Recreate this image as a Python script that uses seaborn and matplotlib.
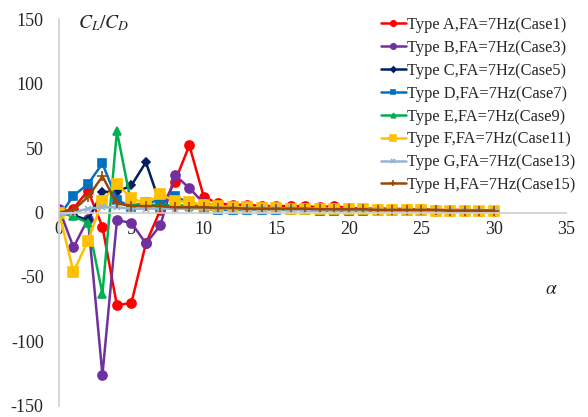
import numpy as np
import pandas as pd
import matplotlib
matplotlib.use('Agg')
import matplotlib.pyplot as plt
import seaborn as sns

sns.set_theme(style="white")
plt.rcParams['font.family'] = ['Liberation Serif', 'DejaVu Serif']
plt.rcParams['mathtext.fontset'] = 'stix'
plt.rcParams['axes.unicode_minus'] = False

# Veri (okunan değerler), alpha = 0..30
alpha = list(range(31))
labels = ['Type A,FA=7Hz(Case1)', 'Type B,FA=7Hz(Case3)', 'Type C,FA=7Hz(Case5)',
          'Type D,FA=7Hz(Case7)', 'Type E,FA=7Hz(Case9)', 'Type F,FA=7Hz(Case11)',
          'Type G,FA=7Hz(Case13)', 'Type H,FA=7Hz(Case15)']
type_a = [0, 3, 17, -11, -72, -70, -24, 2, 24, 52, 12, 7, 6, 6, 5, 5, 5, 5, 4, 5,
          3.5, 3, 3, 3, 2.5, 2.5, 2, 2, 2, 1.5, 1.5]
type_b = [3, -27, -5, -126, -6, -8, -24, -10, 29, 19, 7, 5, 4, 4, 3.5, 3.5, 3, 3, 3, 3,
          2.5, 2.5, 2, 2, 2, 2, 1.5, 1.5, 1.5, 1, 1]
type_c = [0, -2, -6, 16, 16, 21, 39, 6, 5, 4, 4, 3.5, 3, 3, 3, 3, 2.5, 2.5, 2.5, 2,
          2, 2, 2, 1.5, 1.5, 1.5, 1.5, 1, 1, 1, 1]
type_d = [-3, 13, 22, 38, 10, 4, 8, 9, 13, 7, 3, 2, 2, 2, 2, 2, 2, 2, 1.5, 1.5,
          1.5, 1.5, 1.5, 1.5, 1, 1, 1, 1, 1, 1, 1]
type_e = [0, -3, -8, -63, 63, 6, 7, 5, 6, 5, 4, 3, 3, 3, 2.5, 2.5, 2.5, 2, 2, 2,
          2, 2, 1.5, 1.5, 1.5, 1.5, 1.5, 1, 1, 1, 1]
type_f = [0, -46, -22, 9, 22, 11, 7, 14, 9, 8, 6, 5, 4, 4, 3.5, 3.5, 3, 3, 3, 3,
          2.5, 2.5, 2, 2, 2, 2, 1.5, 1.5, 1.5, 1, 1]
type_g = [-2, 0, 3, 4, 4, 3, 3, 3, 3, 3, 3, 3, 3, 2.5, 2.5, 2.5, 2.5, 2, 2, 2,
          2, 2, 2, 1.5, 1.5, 1.5, 1.5, 1.5, 1, 1, 1]
type_h = [0, 2, 12, 28, 7, 5, 5, 5, 4, 4, 4, 3.5, 3.5, 3, 3, 3, 3, 3, 2.5, 2.5,
          2.5, 2.5, 2, 2, 2, 2, 2, 1.5, 1.5, 1.5, 1.5]
series = [type_a, type_b, type_c, type_d, type_e, type_f, type_g, type_h]

colors = ['#FF0000', '#7030A0', '#002060', '#0070C0', '#00B050', '#FFC000', '#95B3D7', '#984807']
markers = ['o', 'o', 'D', 's', '^', 's', 'x', '+']
msizes = [6.5, 6.5, 4.5, 5.5, 5.5, 6.5, 4, 7]

fig = plt.figure(figsize=(5.88, 4.17), dpi=100)
ax = fig.add_axes([0.1003, 0.0264, 0.8623, 0.928])

for vals, lab, c, m, ms in zip(series, labels, colors, markers, msizes):
    df = pd.DataFrame({'alpha': alpha, 'val': vals})
    sns.lineplot(data=df, x='alpha', y='val', ax=ax, color=c, marker=m, markersize=ms,
                 markeredgecolor=c, markeredgewidth=1.2, linewidth=1.8, label=lab)

ax.set_xlim(0, 35)
ax.set_ylim(-150, 150)
ax.set_xticks(range(0, 36, 5))
ax.set_yticks(range(-150, 151, 50))
ax.set_xlabel('')
ax.set_ylabel('')

for s in ['top', 'right']:
    ax.spines[s].set_visible(False)
ax.spines['bottom'].set_position(('data', 0))
ax.spines['bottom'].set_color('#D0D0D0')
ax.spines['left'].set_color('#D0D0D0')
ax.tick_params(axis='y', direction='in', length=4, color='#D0D0D0', pad=11, labelsize=13)
ax.tick_params(axis='x', length=0, pad=6, labelsize=13)

ax.text(1.3, 147, r'$C_L/C_D$', fontsize=14, va='center', ha='left')
ax.text(34, -60, r'$\alpha$', fontsize=14, va='center', ha='center')

leg = ax.legend(loc='upper right', bbox_to_anchor=(0.99, 0.975), bbox_transform=fig.transFigure,
                frameon=False, fontsize=11.8, handlelength=1.5, handletextpad=0.1,
                labelspacing=0.42, borderaxespad=0.2, borderpad=0.2, markerscale=0.6)

plt.savefig('out.png', dpi=100)
